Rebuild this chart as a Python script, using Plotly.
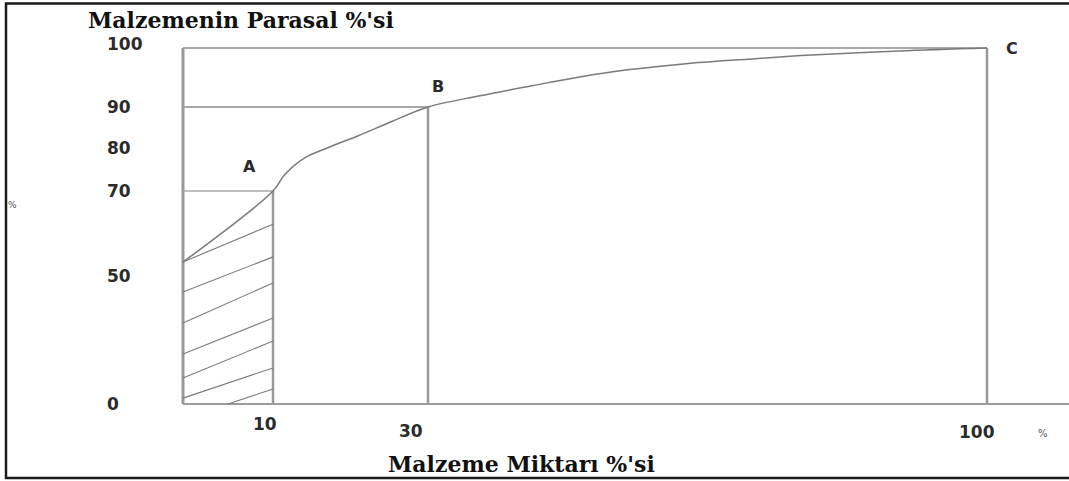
import numpy as np
import plotly.graph_objects as go

# ---------------- data (percent units) ----------------
Y_TICKS = [0, 50, 70, 80, 90, 100]
X_TICKS = [10, 30, 100]
POINT_LABELS = ["A", "B", "C"]
POINT_X = [10, 30, 100]
POINT_Y = [70, 90, 100]

# cumulative curve: % of items (x) vs % of value (y)
CURVE_X = [0, 10, 11.5, 14.0, 17.0, 21.0, 25.5, 30, 36.5, 43.0, 49.0, 55.0, 62.0, 70.0, 78.0, 89.0, 100]
CURVE_Y = [53.3, 70, 73.8, 77.6, 80.0, 83.0, 86.6, 90, 91.9, 93.6, 95.1, 96.3, 97.3, 98.1, 98.8, 99.5, 100]

# hatching of zone A (left edge value -> right edge value)
HATCH_X0 = [0, 0, 0, 0, 0, 0, 5.0]
HATCH_Y0 = [53.3, 43.75, 31.6, 19.5, 10.2, 2.3, 0]
HATCH_Y1 = [62.2, 54.5, 47.3, 33.6, 24.6, 14.1, 5.9]

# ---------------- scale (hand-drawn, piecewise) ----------------
W, H = 1069, 481
X_BREAK_V = [0, 10, 30, 100]
X_BREAK_P = [183, 273, 428, 987]
Y_BREAK_V = [0, 50, 70, 80, 90, 100]
Y_BREAK_P = [404, 276, 191, 148, 107, 48]


def fx(v):
    return np.interp(v, X_BREAK_V, X_BREAK_P)


def fy(v):
    return np.interp(v, Y_BREAK_V, Y_BREAK_P)


LINE = "#8e8e8e"
TXT = "#2b2b2b"

fig = go.Figure()


def seg(xs, ys, color=LINE, width=2):
    fig.add_trace(go.Scatter(x=xs, y=ys, mode="lines",
                             line=dict(color=color, width=width),
                             hoverinfo="skip", showlegend=False))


# frame of chart
seg([fx(0), fx(0)], [fy(0), fy(100)], "#999999", 3)
seg([fx(0), fx(100)], [fy(100), fy(100)], "#a8a8a8", 2)
seg([fx(100), fx(100)], [fy(0), fy(100)], "#999999", 2.5)
seg([fx(0), W], [fy(0), fy(0)], "#9a9a9a", 2)

# guides for A and B
seg([fx(10), fx(10)], [fy(0), fy(70)], "#999999", 2.5)
seg([fx(30), fx(30)], [fy(0), fy(90)], "#999999", 2.5)
seg([fx(0), fx(30)], [fy(90), fy(90)], "#a8a8a8", 1.8)
seg([fx(0), fx(10)], [fy(70), fy(70)], "#a8a8a8", 1.5)

# hatching
for x0, y0, y1 in zip(HATCH_X0, HATCH_Y0, HATCH_Y1):
    seg([fx(x0), fx(10)], [fy(y0), fy(y1)], "#7a7a7a", 1.1)

# cumulative curve
fig.add_trace(go.Scatter(x=fx(CURVE_X), y=fy(CURVE_Y), mode="lines",
                         line=dict(color="#7a7a7a", width=1.5, shape="spline", smoothing=1.0),
                         hoverinfo="skip", showlegend=False))

NUMFONT = dict(family="DejaVu Sans", size=17, color=TXT, weight="bold")
ann = []
# y tick labels (left aligned)
for v in Y_TICKS:
    shift = 4 if v == 100 else 0
    ann.append(dict(x=105, y=fy(v), text=str(v), showarrow=False, xanchor="left",
                    yanchor="middle", yshift=shift, font=NUMFONT))
# x tick labels
X_LABEL_POS = {10: (265, 424), 30: (411, 431), 100: (977, 432)}
for v in X_TICKS:
    px, py = X_LABEL_POS[v]
    ann.append(dict(x=px, y=py, text=str(v), showarrow=False, xanchor="center",
                    yanchor="middle", font=NUMFONT))
# point labels
PT_OFF = {"A": (-24, -25), "B": (10, -21), "C": (25, 0)}
for lab, xv, yv in zip(POINT_LABELS, POINT_X, POINT_Y):
    dx, dy = PT_OFF[lab]
    ann.append(dict(x=fx(xv) + dx, y=fy(yv) + dy, text=lab, showarrow=False,
                    xanchor="center", yanchor="middle",
                    font=dict(family="DejaVu Sans", size=16, color=TXT, weight="bold")))
# percent signs
ann.append(dict(x=12, y=205, text="%", showarrow=False, font=dict(family="DejaVu Sans", size=9, color="#555")))
ann.append(dict(x=1043, y=433, text="%", showarrow=False, font=dict(family="DejaVu Sans", size=10, color="#555")))
# titles
TITLE_FONT = dict(family="DejaVu Serif", size=22, color="#111", weight="bold")
ann.append(dict(x=241, y=20, text="Malzemenin Parasal %'si", showarrow=False,
                xanchor="center", yanchor="middle", font=TITLE_FONT))
ann.append(dict(x=521, y=464, text="Malzeme Miktarı %'si", showarrow=False,
                xanchor="center", yanchor="middle", font=TITLE_FONT))

for a in ann:
    a["xref"] = "x"
    a["yref"] = "y"

fig.update_layout(
    width=W, height=H,
    margin=dict(l=0, r=0, t=0, b=0),
    paper_bgcolor="white", plot_bgcolor="white",
    xaxis=dict(range=[0, W], visible=False, fixedrange=True),
    yaxis=dict(range=[H, 0], visible=False, fixedrange=True),
    annotations=ann,
    shapes=[dict(type="rect", xref="x", yref="y", x0=6, y0=3.5, x1=W + 10, y1=478,
                 line=dict(color="#1a1a1a", width=2.5))],
)

fig.write_html("out.html", config={"displayModeBar": False},
               post_script="document.body.style.margin='0';document.body.style.padding='0';document.body.style.overflow='hidden';")
